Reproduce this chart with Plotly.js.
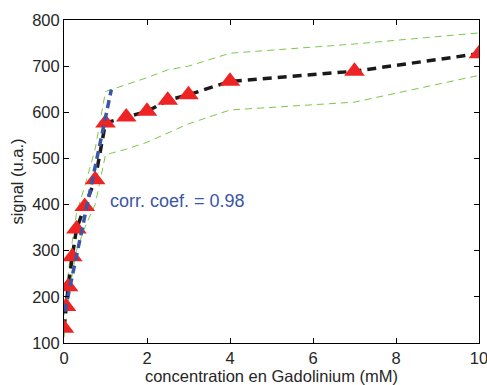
<!DOCTYPE html>
<html>
<head>
<meta charset="utf-8">
<script src="https://cdn.plot.ly/plotly-3.0.1.min.js"></script>
<style>html,body{margin:0;padding:0;background:#fff;}#chart{width:487px;height:385px;}</style>
</head>
<body>
<div id="chart"></div>
<script>
// Measured data (concentration in mM, signal in u.a.)
var concentration = [0, 0.05, 0.1, 0.2, 0.3, 0.5, 0.75, 1, 1.5, 2, 2.5, 3, 4, 7, 10];
var signal = [132, 179, 222, 287, 347, 396, 454, 577, 590, 602, 626, 638, 667, 689, 727];

// Confidence band (upper / lower)
var bandX = [0, 0.05, 0.1, 0.2, 0.3, 0.5, 0.75, 1, 1.5, 2, 2.5, 3, 4, 7, 10];
var bandUpper = [160, 205, 250, 320, 380, 440, 520, 645, 660, 675, 692, 700, 728, 748, 772];
var bandLower = [112, 150, 190, 250, 300, 350, 400, 508, 520, 535, 555, 575, 605, 622, 680];

// Linear fit (low-concentration region)
var fitX = [0.02, 1.14];
var fitY = [168, 649];

var corrText = 'corr. coef. = 0.98';
var xTicks = [0, 2, 4, 6, 8, 10];
var yTicks = [100, 200, 300, 400, 500, 600, 700, 800];

var green = '#7cc84a';
var traces = [
  {x: bandX, y: bandUpper, mode: 'lines', line: {color: green, width: 1, dash: '7px,5px'}, hoverinfo: 'skip'},
  {x: bandX, y: bandLower, mode: 'lines', line: {color: green, width: 1, dash: '7px,5px'}, hoverinfo: 'skip'},
  {x: concentration, y: signal, mode: 'lines', line: {color: '#1a1a1a', width: 3.5, dash: '9px,6px'}},
  {x: concentration, y: signal, mode: 'markers', marker: {symbol: 'triangle-up', size: 18, color: '#ee2424', line: {width: 0}}},
  {x: fitX, y: fitY, mode: 'lines', line: {color: '#3b56a6', width: 3.5, dash: '8px,5px'}}
];

var fontFam = 'Liberation Sans, Arial, Helvetica, sans-serif';
var layout = {
  width: 487, height: 385,
  margin: {l: 64, r: 8, t: 20, b: 42},
  paper_bgcolor: '#fff', plot_bgcolor: '#fff',
  showlegend: false,
  font: {family: fontFam, size: 16.5, color: '#262626'},
  xaxis: {
    range: [0, 10], tickvals: xTicks, ticktext: xTicks.map(String),
    showgrid: false, zeroline: false, showline: true, linecolor: '#000', linewidth: 1, mirror: 'ticks',
    ticks: 'inside', ticklen: 5, tickcolor: '#000', ticklabeloverflow: 'allow',
    tickfont: {size: 16.5, color: '#262626'},
    title: {text: 'concentration en Gadolinium (mM)', font: {size: 16.5, color: '#262626'}, standoff: 0}
  },
  yaxis: {
    range: [100, 800], tickvals: yTicks, ticktext: yTicks.map(String),
    showgrid: false, zeroline: false, showline: true, linecolor: '#000', linewidth: 1, mirror: 'ticks',
    ticks: 'inside', ticklen: 5, tickcolor: '#000', ticklabeloverflow: 'allow',
    tickfont: {size: 16.5, color: '#262626'},
    title: {text: 'signal (u.a.)', font: {size: 16.5, color: '#262626'}, standoff: 4}
  },
  annotations: [{
    x: 1.05, y: 408, xref: 'x', yref: 'y', text: corrText, showarrow: false,
    xanchor: 'left', yanchor: 'middle', font: {size: 18, color: '#3b56a6', family: fontFam}
  }]
};
Plotly.newPlot('chart', traces, layout, {displayModeBar: false, staticPlot: true});
</script>
</body>
</html>
